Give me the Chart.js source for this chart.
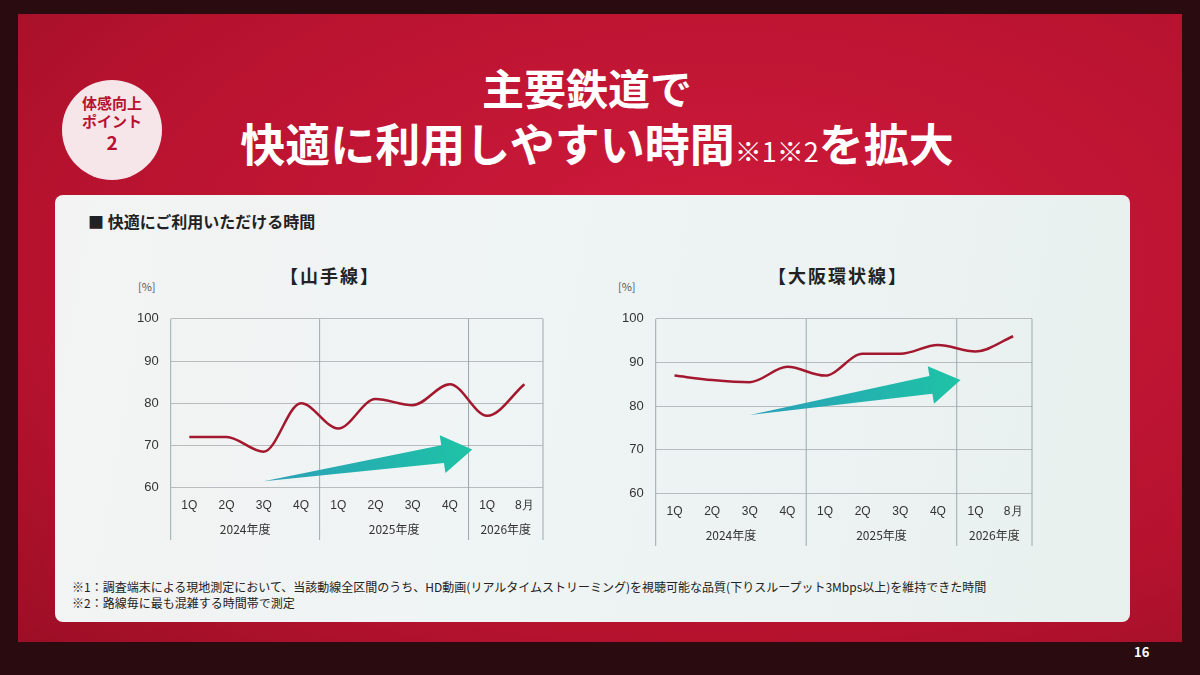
<!DOCTYPE html>
<html><head><meta charset="utf-8">
<script src="https://cdn.jsdelivr.net/npm/chart.js@4"></script>
<style>
body{margin:0;width:1200px;height:675px;background:#2a0c10;font-family:"Noto Sans CJK JP","Noto Sans",sans-serif;overflow:hidden;position:relative}
#slide{position:absolute;left:18px;top:14px;width:1164px;height:628px;background:radial-gradient(ellipse at 60% 40%,#d01a3c,#b5122e 70%,#9c0f26);}
.t{position:absolute;color:#fff;font-weight:bold;text-align:center;width:1200px;left:0}
#badge{position:absolute;left:62px;top:80px;width:100px;height:100px;border-radius:50%;background:#f6e6ea;color:#b8102e;text-align:center;font-weight:bold;font-size:15px;line-height:18px;padding-top:14px;box-sizing:border-box}
#panel{position:absolute;left:55px;top:195px;width:1075px;height:427px;border-radius:8px;background:linear-gradient(100deg,#f3f3f3,#eef4f4 50%,#e8f0ee)}
.lbl{position:absolute;color:#222}
.box{position:absolute}
</style></head><body>
<div id="slide"></div>
<div class="t" style="top:56px;font-size:42px;left:-13px">主要鉄道で</div>
<div class="t" style="top:110px;font-size:45px;left:-3px">快適に利用しやすい時間<span style="font-size:27px;font-weight:normal">※1※2</span>を拡大</div>
<div id="badge">体感向上<br>ポイント<br><span style="font-size:19px;line-height:24px">2</span></div>
<div id="panel"></div>
<div class="lbl" style="left:88px;top:209px;font-size:16px;font-weight:bold">■ 快適にご利用いただける時間</div>
<div class="lbl" style="left:280px;top:262px;font-size:18px;font-weight:bold;letter-spacing:2px">【山手線】</div>
<div class="lbl" style="left:768px;top:262px;font-size:18px;font-weight:bold;letter-spacing:2px">【大阪環状線】</div>
<div class="lbl" style="left:138px;top:278px;font-size:11px;color:#555">[%]</div>
<div class="lbl" style="left:618px;top:278px;font-size:11px;color:#555">[%]</div>
<div class="box" style="left:125px;top:299px;width:422px;height:245px"><canvas id="c1"></canvas></div>
<div class="box" style="left:610px;top:299px;width:426px;height:251px"><canvas id="c2"></canvas></div>
<div class="lbl" style="left:72px;top:578px;font-size:12px">※1：調査端末による現地測定において、当該動線全区間のうち、HD動画(リアルタイムストリーミング)を視聴可能な品質(下りスループット3Mbps以上)を維持できた時間</div>
<div class="lbl" style="left:72px;top:594px;font-size:12px">※2：路線毎に最も混雑する時間帯で測定</div>
<div class="lbl" style="left:1134px;top:642px;font-size:13px;color:#fff;font-weight:bold">16</div>
<script>
const categories=["1Q","2Q","3Q","4Q","1Q","2Q","3Q","4Q","1Q","8月"];
const fiscalYears=["2024年度","2025年度","2026年度"];
const yearGroupSizes=[4,4,2];
const yamanoteValues=[72,72,68.5,80,74,81,79.5,84.5,77,84.5];
const osakaValues=[87,86,85.5,89,87,92,92,94,92.5,96];
const yamanoteArrow=[[2,61.5],[7.6,69]];
const osakaArrow=[[2,78],[7.6,86]];
const yTicks=[60,70,80,90,100];

function make(id,vals,arrow){
 const deco={id:'deco',
  beforeDatasetsDraw(ch){
   const {ctx,scales:{x,y},chartArea:a}=ch;
   const bw=(a.right-a.left)/categories.length;
   ctx.save();ctx.strokeStyle='#9aa';ctx.lineWidth=1;
   let idx=0;const bounds=[0];
   yearGroupSizes.forEach(s=>{idx+=s;bounds.push(idx)});
   bounds.forEach(b=>{const px=a.left+b*bw;ctx.beginPath();ctx.moveTo(px,a.top);ctx.lineTo(px,ch.height-4);ctx.stroke();});
   ctx.fillStyle='#333';ctx.font='12px "Noto Sans CJK JP"';ctx.textAlign='center';
   for(let i=0;i<fiscalYears.length;i++){const cx=a.left+(bounds[i]+bounds[i+1])/2*bw;ctx.fillText(fiscalYears[i],cx,ch.height-10);}
   const x0=x.getPixelForValue(arrow[0][0]),y0=y.getPixelForValue(arrow[0][1]);
   const x1=x.getPixelForValue(arrow[1][0]),y1=y.getPixelForValue(arrow[1][1]);
   const ang=Math.atan2(y1-y0,x1-x0),nx=-Math.sin(ang),ny=Math.cos(ang);
   const hl=30,hx=x1-hl*Math.cos(ang),hy=y1-hl*Math.sin(ang);
   const g=ctx.createLinearGradient(x0,y0,x1,y1);g.addColorStop(0,'#2a9fb8');g.addColorStop(1,'#1ec3a6');
   ctx.fillStyle=g;ctx.beginPath();ctx.moveTo(x0,y0);
   ctx.lineTo(hx+nx*9,hy+ny*9);ctx.lineTo(hx+nx*19,hy+ny*19);ctx.lineTo(x1,y1);
   ctx.lineTo(hx-nx*19,hy-ny*19);ctx.lineTo(hx-nx*9,hy-ny*9);ctx.closePath();ctx.fill();
   ctx.restore();
  }};
 new Chart(document.getElementById(id),{type:'line',
  data:{labels:categories,datasets:[{data:vals,borderColor:'#a3182e',borderWidth:2.5,pointRadius:0,tension:0.4,cubicInterpolationMode:'monotone'}]},
  options:{responsive:true,maintainAspectRatio:false,animation:false,
   layout:{padding:{top:8,bottom:28,right:4}},
   plugins:{legend:{display:false},tooltip:{enabled:false}},
   scales:{
    x:{offset:true,grid:{display:false},border:{display:false},ticks:{color:'#333',font:{size:12}}},
    y:{min:60,max:100,afterBuildTicks(s){s.ticks=yTicks.map(v=>({value:v}))},grid:{color:'#b8bcbe',drawTicks:false},border:{display:false},ticks:{color:'#333',font:{size:13},padding:12}}
   }},
  plugins:[deco]});
}
make('c1',yamanoteValues,yamanoteArrow);
make('c2',osakaValues,osakaArrow);
</script></body></html>
